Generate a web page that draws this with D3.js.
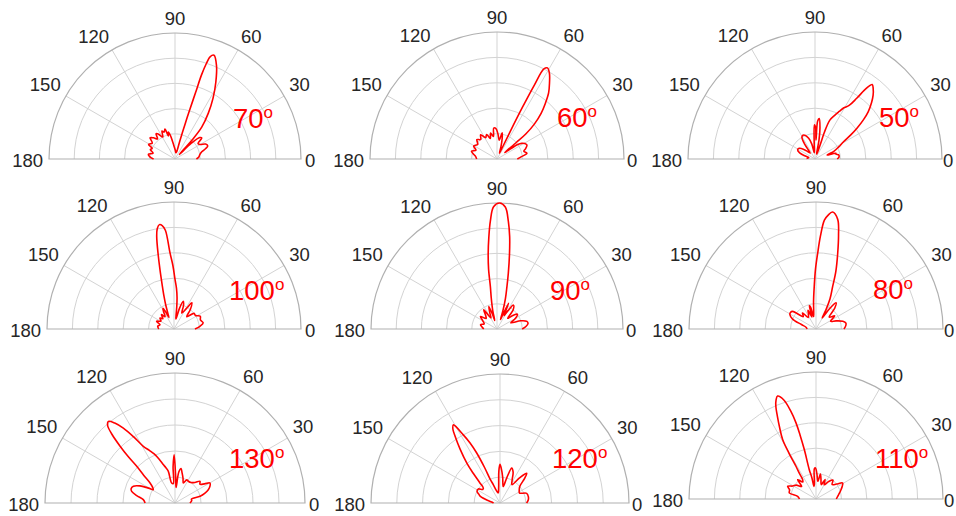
<!DOCTYPE html>
<html>
<head>
<meta charset="utf-8">
<script src="https://cdn.jsdelivr.net/npm/d3@7"></script>
<style>
  html, body { margin: 0; padding: 0; background: #fff; }
  svg text { font-family: "Liberation Sans", Arial, Helvetica, sans-serif; }
</style>
</head>
<body>
<div id="chart"></div>
<script>
// tick labels and rings
var thetaTicks = [0, 30, 60, 90, 120, 150, 180];
var rRings = [0.2, 0.4, 0.6, 0.8, 1.0];

// steering angle shown in each panel (row by row)
var steerLabels = ["70", "60", "50", "100", "90", "80", "130", "120", "110"];

// beam patterns: [theta deg, normalized gain]
var pattern70 = [[0,.17],[5,.19],[10,.2],[15,.22],[19,.26],[22,.28],[26,.27],[30,.23],[34,.22],[38,.27],[41,.26],[44,.18],[46,.05],[48,.2],[50,.33],[54,.45],[58,.57],[62,.69],[66,.81],[69.4,.88],[71,.86],[71.8,.8],[72.5,.7],[72.8,.55],[73.4,.4],[73.9,.29],[75,.15],[77,.06],[82,.05],[88,.07],[94,.1],[98,.14],[101,.19],[104,.22],[106,.19],[108.6,.25],[112,.23],[115,.245],[119,.2],[124,.24],[127,.25],[131,.21],[135.5,.24],[139.6,.26],[145,.22],[151,.24],[155,.2],[159,.21],[165,.18],[170,.215],[175,.2],[180,.17]];
var pattern60 = [[0,.16],[5,.19],[11,.24],[16,.22],[20,.24],[25,.26],[29,.25],[32.4,.23],[35,.2],[38,.1],[40,.08],[40.5,.2],[41,.3],[43,.4],[46,.5],[49,.58],[52,.66],[55.5,.73],[58.5,.79],[61,.82],[62.5,.8],[63.2,.65],[63.8,.45],[64.3,.25],[65,.1],[67,.05],[72,.1],[76,.17],[79,.21],[83,.15],[88,.2],[92,.24],[96,.245],[99,.18],[104,.21],[108,.17],[113,.21],[118,.19],[124,.23],[130,.2],[136,.22],[143,.19],[151,.21],[157,.18],[163,.21],[168,.19],[173,.17],[180,.16]];
var pattern50 = [[0,.175],[5,.19],[9.5,.19],[13,.17],[15.4,.17],[18,.1],[20,.12],[22,.16],[27,.21],[31,.26],[34,.34],[36.3,.41],[39,.49],[41.6,.56],[45,.63],[47.7,.68],[50.5,.72],[52.5,.74],[54,.69],[55.5,.58],[57.5,.5],[60.8,.46],[63,.42],[65.6,.38],[69,.33],[70.5,.25],[70.7,.21],[70,.12],[69,.04],[74,.05],[78,.15],[81,.25],[84,.32],[86,.3],[87,.15],[89,.25],[91,.27],[93,.12],[96,.05],[102,.12],[107,.17],[112,.2],[117,.21],[121,.2],[125,.14],[129,.06],[134,.08],[140,.12],[146,.15],[152,.155],[158,.13],[163,.08],[168,.05],[174,.06],[180,.06]];
var pattern100 = [[0,.165],[6,.205],[12,.235],[19,.22],[26,.23],[32,.2],[38,.2],[44,.14],[50,.2],[55.8,.25],[58.8,.19],[64,.14],[68,.2],[71.4,.23],[75,.17],[79,.08],[81,.1],[83,.18],[84.5,.25],[86.5,.32],[88.8,.39],[91,.5],[93,.6],[95,.78],[96.5,.82],[98,.83],[99.5,.8],[100.6,.74],[102,.6],[103.3,.48],[105,.36],[107,.27],[109,.2],[111.5,.13],[114,.1],[116,.15],[118,.185],[121,.16],[126,.12],[131,.15],[137,.12],[142,.14],[149,.12],[156,.15],[163,.115],[170,.13],[180,.12]];
var pattern90 = [[0,.2],[5,.23],[10,.25],[14.4,.245],[19,.2],[24,.12],[30,.17],[36,.2],[40,.17],[45,.12],[50,.2],[55.5,.23],[59,.17],[62,.12],[65.8,.225],[68,.12],[70,.08],[72,.15],[74.5,.25],[76.8,.345],[78.5,.45],[80.5,.6],[82.2,.74],[84,.86],[86.1,.97],[88.8,1.0],[91.6,.97],[93.5,.86],[95.1,.73],[96.7,.6],[98,.48],[98.9,.34],[100.5,.25],[103,.15],[105,.07],[107,.12],[110,.19],[114,.14],[119,.1],[124.6,.185],[130,.14],[136,.12],[142.7,.165],[150,.13],[158,.11],[165.5,.135],[172,.12],[180,.105]];
var pattern80 = [[0,.22],[6,.235],[11,.24],[16,.22],[22,.17],[28,.13],[35,.18],[42,.14],[48,.22],[52.4,.26],[56,.2],[59,.12],[61,.1],[62.6,.17],[65,.26],[68.6,.36],[71,.48],[74,.62],[76.5,.76],[78.8,.88],[81.9,.93],[84,.9],[85.6,.86],[87.3,.73],[88.7,.6],[90.5,.47],[92.3,.34],[95,.22],[98,.13],[101,.1],[104,.18],[106,.19],[109,.1],[113,.16],[117,.13],[124,.11],[130,.165],[136,.14],[143,.23],[147,.24],[151,.235],[157,.2],[163,.12],[170,.08],[180,.07]];
var pattern130 = [[0,.115],[8,.13],[13.5,.13],[15,.2],[18,.24],[21.8,.276],[26,.3],[29.7,.31],[33,.27],[37,.24],[41,.255],[46,.22],[52,.2],[58.5,.196],[63,.2],[67.4,.167],[72,.2],[77,.24],[80,.27],[83,.24],[86,.12],[88.5,.2],[91,.37],[93,.28],[95,.15],[99.5,.156],[102,.25],[104.5,.28],[107,.31],[110,.36],[113,.41],[116,.45],[119.2,.5],[122,.6],[124.6,.7],[127,.77],[129.2,.81],[131,.79],[132.5,.72],[134,.61],[135.2,.51],[136.2,.41],[138.5,.32],[141.3,.246],[145,.21],[148.5,.196],[151,.24],[154,.3],[158,.345],[162,.355],[165,.345],[169,.3],[174,.245],[180,.23]];
var pattern120 = [[0,.206],[6,.22],[12,.225],[20,.22],[27,.17],[34,.18],[40,.2],[45,.27],[48,.31],[52,.25],[57,.17],[62,.2],[67,.26],[71.5,.285],[75,.2],[79,.13],[84,.2],[88,.27],[90,.3],[92,.25],[95,.12],[100,.08],[106,.1],[110,.15],[112.5,.2],[113.5,.3],[115,.43],[116.5,.52],[118.3,.6],[120.8,.705],[122.5,.68],[124,.62],[126.5,.52],[129.8,.4],[132,.31],[135,.22],[138,.174],[142,.17],[147,.2],[153,.2],[157,.18],[161.5,.16],[168,.1],[174,.06],[180,.05]];
var pattern110 = [[0,.16],[7,.172],[14,.19],[20.4,.21],[26,.23],[31,.245],[36,.2],[42,.17],[48,.2],[54,.17],[60,.13],[65,.17],[70,.12],[75.5,.157],[80,.2],[84,.14],[88,.2],[91,.245],[93,.24],[96,.12],[99,.1],[101,.17],[102.9,.237],[103.3,.4],[104,.52],[104.7,.62],[106,.72],[108,.82],[110.5,.865],[112,.84],[113.3,.8],[115,.72],[117,.63],[119.3,.537],[120.5,.42],[121.5,.3],[123,.24],[124.6,.185],[128,.17],[133.5,.21],[139,.15],[145,.19],[151,.21],[155.8,.245],[161,.22],[167,.216],[171.6,.146],[180,.13]];

var patterns = [pattern70, pattern60, pattern50, pattern100, pattern90, pattern80, pattern130, pattern120, pattern110];

// where each half-disc sits on the page, where its red label goes,
// and the gap left before the "0" label
var layout = [
  {cx: 175, cy: 159, R: 126, lx: 58, ly: -31, g0: 4},
  {cx: 497, cy: 159, R: 127, lx: 60, ly: -32, g0: 3},
  {cx: 815, cy: 159, R: 127, lx: 64, ly: -32, g0: 1},
  {cx: 174, cy: 329, R: 127, lx: 55, ly: -29, g0: 4},
  {cx: 497, cy: 329, R: 126, lx: 53, ly: -29, g0: 3},
  {cx: 816, cy: 329, R: 127, lx: 57, ly: -30, g0: 1},
  {cx: 175, cy: 503, R: 130, lx: 54, ly: -35, g0: 4},
  {cx: 500, cy: 503, R: 129, lx: 52, ly: -35, g0: 3},
  {cx: 816, cy: 499, R: 127, lx: 59, ly: -31, g0: 1}
];

var width = 956, height = 516;
var toRad = Math.PI / 180;

var svg = d3.select("#chart")
    .append("svg")
    .attr("width", width)
    .attr("height", height);

patterns.forEach(function(data, i) {
    var L = layout[i];
    var r = d3.scaleLinear().domain([0, 1]).range([0, L.R]);

    var g = svg.append("g")
        .attr("transform", "translate(" + L.cx + "," + L.cy + ")");

    // inner rings
    rRings.slice(0, -1).forEach(function(v) {
        var p = d3.path();
        p.moveTo(-r(v), 0);
        p.arc(0, 0, r(v), Math.PI, 2 * Math.PI);
        g.append("path").attr("d", p.toString())
            .style("fill", "none").style("stroke", "#d3d3d3").style("stroke-width", "1px");
    });

    // spokes
    thetaTicks.slice(1, -1).forEach(function(t) {
        g.append("line")
            .attr("x1", 0).attr("y1", 0)
            .attr("x2", r(1) * Math.cos(t * toRad))
            .attr("y2", -r(1) * Math.sin(t * toRad))
            .style("stroke", "#d3d3d3").style("stroke-width", "1px");
    });

    // outer boundary: arc + base line
    var po = d3.path();
    po.moveTo(-r(1), 0);
    po.arc(0, 0, r(1), Math.PI, 2 * Math.PI);
    po.closePath();
    g.append("path").attr("d", po.toString())
        .style("fill", "none").style("stroke", "#b0b0b0").style("stroke-width", "1.2px");

    // theta tick labels
    thetaTicks.forEach(function(t) {
        var c = Math.cos(t * toRad), s = Math.sin(t * toRad);
        var gap = t === 0 ? L.g0 : 6;
        var px = (L.R + gap) * c, py = -(L.R + gap) * s;
        var anchor = c > 0.01 ? "start" : (c < -0.01 ? "end" : "middle");
        var y = (s > 0.01) ? py - 2 : py + 8;
        g.append("text")
            .attr("x", px).attr("y", y)
            .attr("text-anchor", anchor)
            .style("font-size", "18.5px")
            .style("fill", "#262626")
            .text(t);
    });

    // the pattern
    var line = d3.lineRadial()
        .angle(function(d) { return Math.PI / 2 - d[0] * toRad; })
        .radius(function(d) { return r(d[1]); })
        .curve(d3.curveCatmullRom.alpha(0.5));

    g.append("path")
        .datum(data)
        .attr("d", line)
        .style("fill", "none")
        .style("stroke", "#ff0000")
        .style("stroke-width", "1.6px")
        .style("stroke-linejoin", "round");

    // steering label
    var lab = g.append("text")
        .attr("x", L.lx).attr("y", L.ly)
        .style("font-size", "27.5px")
        .style("fill", "#ff0000");
    lab.append("tspan").text(steerLabels[i]);
    lab.append("tspan").attr("dy", -10).style("font-size", "17px").text("o");
});
</script>
</body>
</html>
